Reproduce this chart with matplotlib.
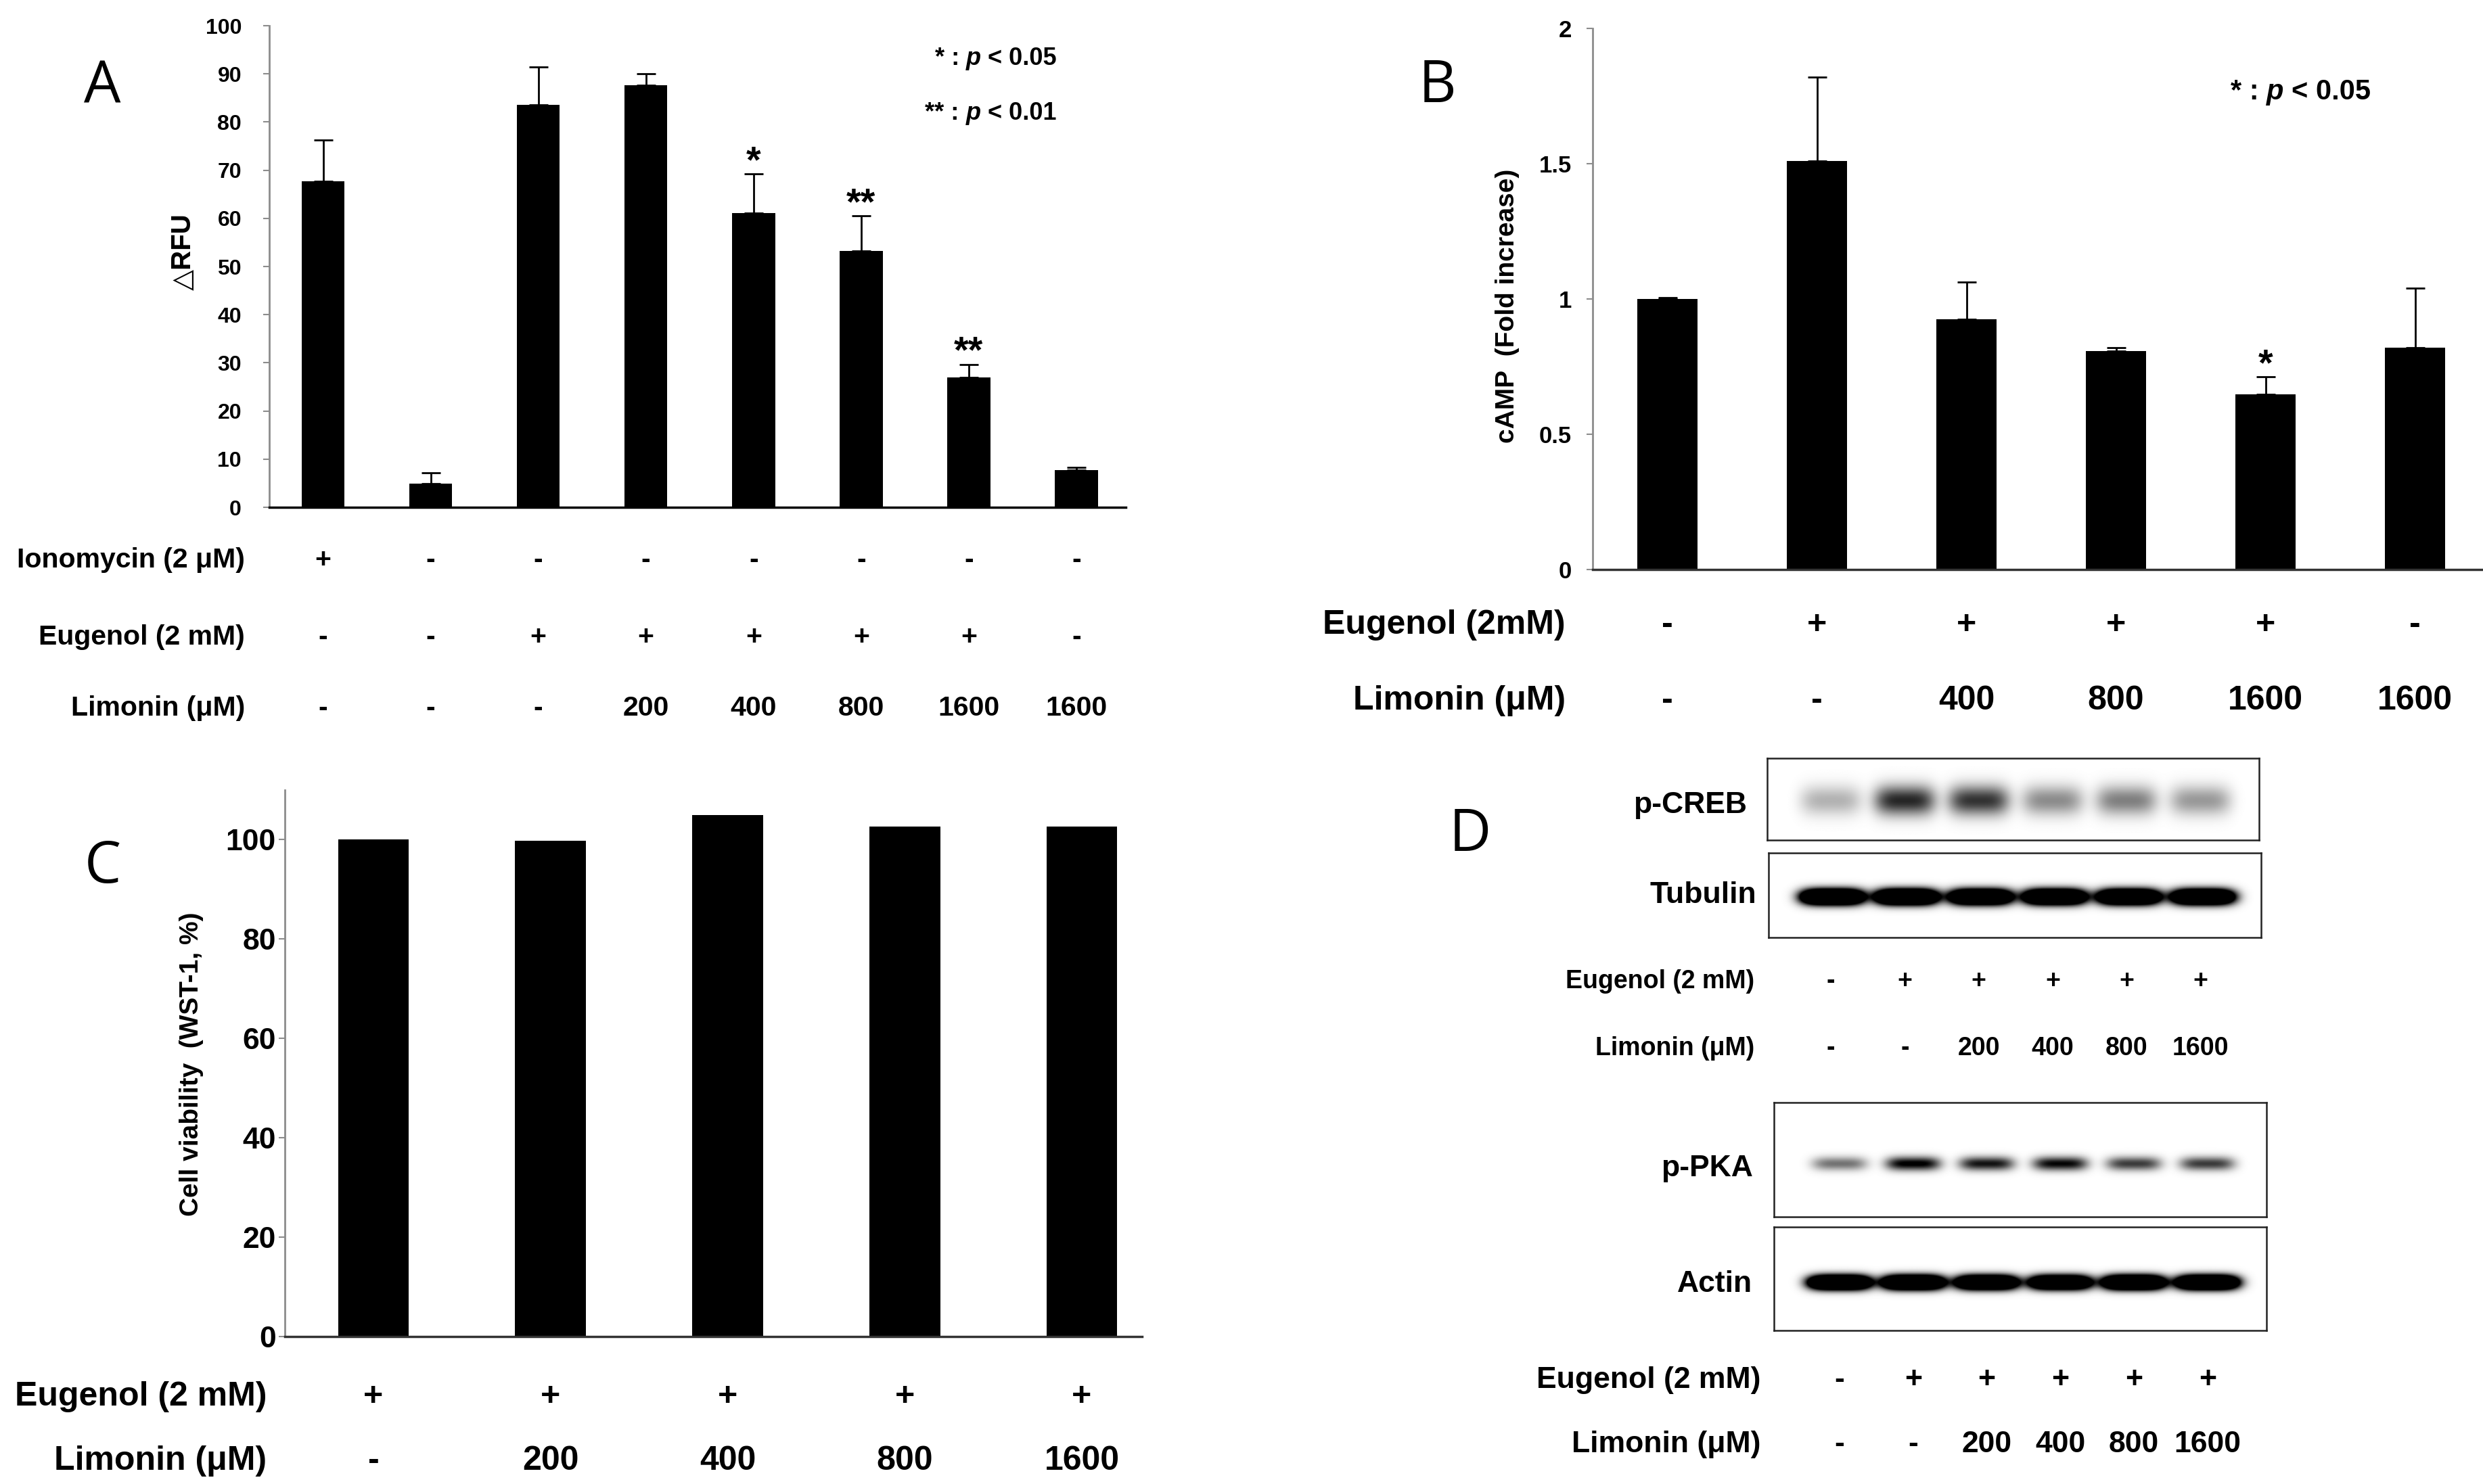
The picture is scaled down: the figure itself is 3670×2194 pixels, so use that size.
import numpy as np
import matplotlib
matplotlib.use("Agg")
import matplotlib.pyplot as plt
from matplotlib.transforms import blended_transform_factory

# ---- data ----
# panel A: calcium response (delta RFU)
A_vals = [67.7, 4.9, 83.6, 87.7, 61.1, 53.3, 27.0, 7.7]
A_err = [8.5, 2.2, 7.9, 2.3, 8.1, 7.2, 2.7, 0.6]
A_sig = ["", "", "", "", "*", "**", "**", ""]
A_ticks = [0, 10, 20, 30, 40, 50, 60, 70, 80, 90, 100]
A_iono = ["+", "-", "-", "-", "-", "-", "-", "-"]
A_eug = ["-", "-", "+", "+", "+", "+", "+", "-"]
A_lim = ["-", "-", "-", "200", "400", "800", "1600", "1600"]

# panel B: cAMP fold increase
B_vals = [1.0, 1.51, 0.925, 0.807, 0.647, 0.821]
B_err = [0.005, 0.31, 0.138, 0.012, 0.065, 0.22]
B_sig = ["", "", "", "", "*", ""]
B_ticks = [0, 0.5, 1, 1.5, 2]
B_ticklabels = ["0", "0.5", "1", "1.5", "2"]
B_eug = ["-", "+", "+", "+", "+", "-"]
B_lim = ["-", "-", "400", "800", "1600", "1600"]

# panel C: cell viability
C_vals = [100.0, 99.8, 105.0, 102.7, 102.7]
C_ticks = [0, 20, 40, 60, 80, 100]
C_eug = ["+", "+", "+", "+", "+"]
C_lim = ["-", "200", "400", "800", "1600"]

# panel D: western blot band strength per lane (0..1)
D_eug = ["-", "+", "+", "+", "+", "+"]
D_lim = ["-", "-", "200", "400", "800", "1600"]
creb = [0.30, 0.85, 0.80, 0.45, 0.50, 0.40]
tubulin = [1.0, 1.0, 0.95, 0.95, 0.95, 0.95]
pka = [0.50, 0.95, 0.85, 0.90, 0.70, 0.70]
actin = [1.0, 1.0, 0.95, 0.90, 1.0, 1.0]

W, H = 3670, 2194
plt.rcParams["font.family"] = ["Liberation Sans", "DejaVu Sans"]
plt.rcParams["font.weight"] = "bold"

fig = plt.figure(figsize=(W / 100, H / 100), dpi=100)
renderer = fig.canvas.get_renderer()


def box(left, top, right, bottom):
    return [left / W, 1 - bottom / H, (right - left) / W, (bottom - top) / H]


def fy(y):
    return 1 - y / H


def style_axis(ax, ticksize, pad, bottom_color):
    for s in ["top", "right"]:
        ax.spines[s].set_visible(False)
    ax.spines["left"].set_color("#8c8c8c")
    ax.spines["left"].set_linewidth(2)
    ax.spines["bottom"].set_color(bottom_color)
    ax.spines["bottom"].set_linewidth(2.5)
    ax.tick_params(axis="y", direction="out", length=6.5, width=1.5,
                   color="#8c8c8c", labelsize=ticksize, pad=pad)
    ax.tick_params(axis="x", length=0, labelbottom=False)


def rich(x, y, parts, size):
    # text with an italic p, drawn piece by piece
    cur = x
    sp = 0.278 * size * 100 / 72
    for s, st in parts:
        t = fig.text(cur / W, fy(y), s, fontsize=size, fontstyle=st,
                     ha="left", va="baseline")
        cur += t.get_window_extent(renderer).width + sp


def rows(ax, labels, values, ys, right, size):
    tr = blended_transform_factory(ax.transData, fig.transFigure)
    for lab, vals, y in zip(labels, values, ys):
        fig.text(right / W, fy(y), lab, ha="right", va="baseline", fontsize=size)
        for i, s in enumerate(vals):
            fig.text(i, fy(y), s, transform=tr, ha="center", va="baseline",
                     fontsize=size)


def letter(x, y, s):
    fig.text(x / W, fy(y), s, family="Open Sans", fontweight="normal",
             fontsize=62, ha="center", va="baseline")


def bars(ax, vals, err=None, sig=None, sig_size=40):
    x = np.arange(len(vals))
    ax.bar(x, vals, width=0.4, color="black")
    if err is not None:
        ax.errorbar(x, vals, yerr=[np.zeros(len(err)), err], fmt="none",
                    ecolor="black", elinewidth=2, capsize=10, capthick=2)
        for i, s in enumerate(sig):
            if s:
                ax.annotate(s, (i, vals[i] + err[i]), xytext=(0, 2),
                            textcoords="offset points", ha="center",
                            va="baseline", fontsize=sig_size)


# ---------- A ----------
axA = fig.add_axes(box(398, 38, 1664, 750))
bars(axA, A_vals, A_err, A_sig)
axA.set_xlim(-0.5, 7.46)
axA.set_ylim(0, 100)
axA.set_yticks(A_ticks)
style_axis(axA, 23, 23, "black")
fig.text(271 / W, fy(372), "△RFU", rotation=90, ha="center", va="center",
         fontsize=29)
rich(1382, 96, [("* :", "normal"), ("p", "italic"), ("< 0.05", "normal")], 26)
rich(1367, 177, [("** :", "normal"), ("p", "italic"), ("< 0.01", "normal")], 26)
rows(axA, ["Ionomycin (2 μM)", "Eugenol (2 mM)", "Limonin (μM)"],
     [A_iono, A_eug, A_lim], [839, 953, 1058], 362, 29.5)
letter(151, 153, "A")

# ---------- B ----------
axB = fig.add_axes(box(2354, 42, 3669, 842))
bars(axB, B_vals, B_err, B_sig)
axB.set_xlim(-0.5, 5.45)
axB.set_ylim(0, 2)
axB.set_yticks(B_ticks)
axB.set_yticklabels(B_ticklabels)
style_axis(axB, 25, 16, "#333333")
fig.text(2228 / W, fy(452), "cAMP  (Fold increase)", rotation=90,
         ha="center", va="center", fontsize=28)
rich(3297, 147, [("* :", "normal"), ("p", "italic"), ("< 0.05", "normal")], 30)
rows(axB, ["Eugenol (2mM)", "Limonin (μM)"], [B_eug, B_lim], [937, 1049],
     2314, 36)
letter(2124, 151, "B")

# ---------- C ----------
axC = fig.add_axes(box(421, 1168, 1688, 1976))
bars(axC, C_vals)
axC.set_xlim(-0.5, 4.34)
axC.set_ylim(0, 110)
axC.set_yticks(C_ticks)
style_axis(axC, 32, 3, "#333333")
fig.text(283 / W, fy(1573), "Cell viability  (WST-1, %)", rotation=90,
         ha="center", va="center", fontsize=28)
rows(axC, ["Eugenol (2 mM)", "Limonin (μM)"], [C_eug, C_lim], [2078, 2173],
     394, 36)
letter(152, 1305, "C")


# ---------- D ----------
def blot(rect, levels, hw, yc, sy, gain, xlim):
    ax = fig.add_axes(box(*rect))
    xlo, xhi = xlim
    xs = np.linspace(xlo, xhi, 700)
    ys = np.linspace(0, 1, 220)
    X, Y = np.meshgrid(xs, ys)
    img = np.zeros_like(X)
    for i, a in enumerate(levels):
        img += a * np.exp(-((X - i) / hw) ** 4) * np.exp(-((Y - yc) / sy) ** 2)
    img = np.clip(img * gain, 0, 1)
    ax.imshow(img, cmap="gray_r", vmin=0, vmax=1, extent=(xlo, xhi, 1, 0),
              aspect="auto", interpolation="bilinear")
    ax.set_xlim(xlo, xhi)
    ax.set_ylim(1, 0)
    ax.set_xticks([])
    ax.set_yticks([])
    for s in ax.spines.values():
        s.set_linewidth(1.8)
        s.set_color("#222222")
    return ax


top_lim = (-0.86, 5.79)
bot_lim = (-0.89, 5.80)
axCREB = blot((2612, 1121, 3339, 1242), creb, 0.41, 0.52, 0.18, 1.0, top_lim)
axTub = blot((2614, 1261, 3342, 1386), tubulin, 0.43, 0.52, 0.09, 3.0, top_lim)
axPKA = blot((2622, 1630, 3350, 1799), pka, 0.37, 0.535, 0.06, 1.1, bot_lim)
axAct = blot((2622, 1814, 3350, 1967), actin, 0.43, 0.536, 0.068, 3.0, bot_lim)

for lab, right, y in [("p-CREB", 2582, 1202), ("Tubulin", 2596, 1335),
                      ("p-PKA", 2591, 1739), ("Actin", 2590, 1910)]:
    fig.text(right / W, fy(y), lab, ha="right", va="baseline", fontsize=32)

rows(axCREB, ["Eugenol (2 mM)", "Limonin (μM)"], [D_eug, D_lim],
     [1461, 1560], 2593, 27)
rows(axAct, ["Eugenol (2 mM)", "Limonin (μM)"], [D_eug, D_lim],
     [2052, 2147], 2602, 32)
letter(2173, 1258, "D")

fig.savefig("out.png", dpi=100)
